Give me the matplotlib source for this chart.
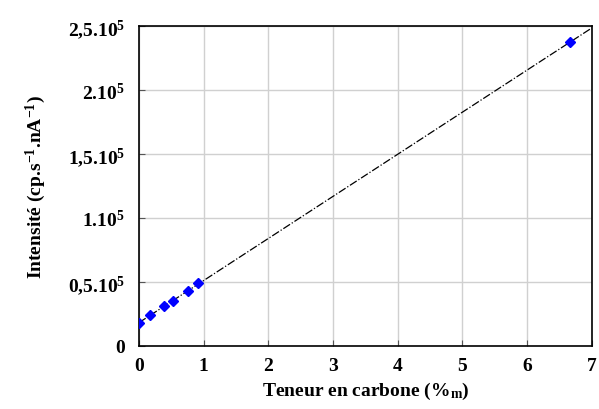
import numpy as np
import matplotlib
matplotlib.use("Agg")
import matplotlib.pyplot as plt

plt.rcParams['font.family'] = ['Liberation Serif', 'DejaVu Serif']
plt.rcParams['font.weight'] = 'bold'
plt.rcParams['mathtext.fontset'] = 'custom'
plt.rcParams['mathtext.rm'] = 'Liberation Serif:bold'
plt.rcParams['mathtext.bf'] = 'Liberation Serif:bold'
plt.rcParams['mathtext.it'] = 'Liberation Serif:bold'

# teneur en carbone (%m) et intensité (cp/s/nA)
teneur = [0.0, 0.17, 0.38, 0.53, 0.76, 0.92, 6.66]
intensite = [17700, 24200, 31000, 35200, 42700, 49000, 237300]

x_ticks = [0, 1, 2, 3, 4, 5, 6, 7]
y_ticks = [0, 0.5e5, 1e5, 1.5e5, 2e5, 2.5e5]
y_labels = ['0', r'$0{,}5.10^5$', r'$1.10^5$', r'$1{,}5.10^5$', r'$2.10^5$', r'$2{,}5.10^5$']

# droite de régression
pente, orig = np.polyfit(teneur, intensite, 1)
xx = np.array([0, 7])

fig = plt.figure(figsize=(5.99, 4.10), dpi=100)
ax = fig.add_axes([0.232, 0.154, 0.756, 0.780])

ax.plot(xx, pente * xx + orig, color='black', linestyle='-.', linewidth=0.9, zorder=2)
ax.plot(teneur, intensite, 'D', color='#0000ff', markersize=5, zorder=3)

ax.set_xlim(0, 7)
ax.set_ylim(0, 2.5e5)
ax.set_xticks(x_ticks)
ax.set_yticks(y_ticks)
ax.set_yticklabels(y_labels)
ax.grid(True, color='#d0d0d0', linewidth=1)
ax.set_axisbelow(True)
ax.tick_params(direction='in', length=4, labelsize=14, color='#555555')
ax.tick_params(axis='x', pad=8)
ax.tick_params(axis='y', pad=10)
for s in ax.spines.values():
    s.set_linewidth(1.2)

ax.set_xlabel(r'Teneur en carbone (%$_{\mathrm{m}}$)', fontsize=14, fontweight='bold', labelpad=4)
ax.set_ylabel(r'Intensité (cp.s$^{\mathbf{-1}}$.nA$^{\mathbf{-1}}$)', fontsize=14, fontweight='bold', labelpad=14)

fig.savefig('out.png', dpi=100)
